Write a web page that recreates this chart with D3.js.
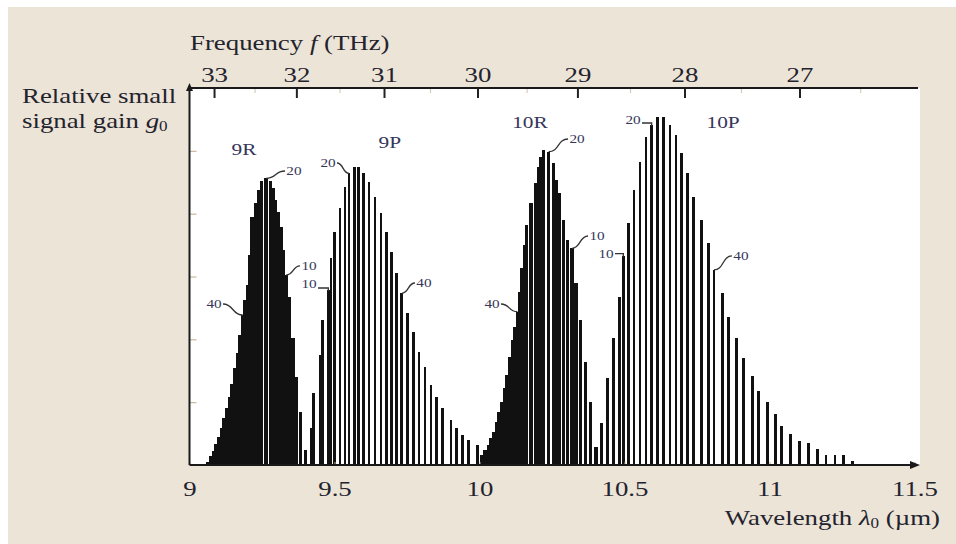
<!DOCTYPE html>
<html><head><meta charset="utf-8">
<script src="https://cdn.jsdelivr.net/npm/d3@7"></script>
<style>html,body{margin:0;padding:0;background:#fff;} svg{display:block;}</style>
</head><body>
<svg id="chart" width="956" height="544"></svg>
<script>
// ---------- data ----------
const bandNames = ["9R", "9P", "10R", "10P"];
const bandLabelWave = [9.188, 9.691, 10.174, 10.840];
const bandLabelGain = [4.93, 5.045, 5.363, 5.363];

const wave9R = [9.0638,9.0730,9.0822,9.0914,9.1006,9.1098,9.1190,9.1282,9.1374,9.1466,9.1557,9.1649,9.1741,9.1833,9.1914,9.1994,9.2075,9.2155,9.2293,9.2385,9.2477,9.2638,9.2787,9.2879,9.2971,9.3063,9.3155,9.3247,9.3339,9.3431,9.3569,9.3695,9.3822,9.3994];
const gain9R = [0.053,0.143,0.228,0.334,0.440,0.584,0.743,0.902,1.088,1.289,1.539,1.788,2.069,2.387,2.626,2.865,3.342,3.952,4.165,4.377,4.525,4.563,4.525,4.404,4.218,4.032,3.793,3.422,3.024,2.679,2.016,1.405,0.849,0.239];

const wave9P = [9.4190,9.4282,9.4500,9.4592,9.4787,9.4879,9.4994,9.5190,9.5362,9.5500,9.5684,9.5822,9.5994,9.6190,9.6397,9.6603,9.6799,9.6971,9.7144,9.7316,9.7523,9.7718,9.7914,9.8121,9.8328,9.8523,9.8718,9.9017,9.9213,9.9408,9.9615,9.9937];
const gain9P = [0.584,1.141,1.751,2.308,2.785,3.289,3.714,4.085,4.430,4.642,4.748,4.737,4.653,4.509,4.271,4.006,3.714,3.395,3.051,2.733,2.414,2.122,1.803,1.565,1.273,1.087,0.902,0.716,0.584,0.477,0.398,0.318];

const wave10R = [10.0075,10.0190,10.0305,10.0397,10.0489,10.0580,10.0672,10.0764,10.0856,10.0948,10.1040,10.1132,10.1224,10.1305,10.1385,10.1466,10.1546,10.1626,10.1776,10.1937,10.2029,10.2121,10.2213,10.2385,10.2557,10.2649,10.2741,10.2902,10.3040,10.3190,10.3328,10.3489,10.3649,10.3822,10.4017];
const gain10R = [0.159,0.239,0.318,0.424,0.531,0.690,0.849,1.008,1.220,1.432,1.724,1.990,2.202,2.440,2.758,3.130,3.502,3.820,4.165,4.483,4.748,4.907,5.014,4.987,4.801,4.536,4.324,3.899,3.581,3.448,2.892,2.308,1.645,1.008,0.292];

const wave10P = [10.4213,10.4420,10.4615,10.4822,10.4960,10.5132,10.5328,10.5534,10.5741,10.5937,10.6144,10.6339,10.6569,10.6776,10.6971,10.7167,10.7374,10.7661,10.7891,10.8086,10.8385,10.8580,10.8868,10.9098,10.9408,10.9615,10.9925,11.0213,11.0420,11.0730,11.1029,11.1339,11.1649,11.1948,11.2259,11.2546,11.2868];
const gain10P = [0.663,1.379,2.026,2.679,3.331,3.847,4.377,4.828,5.225,5.411,5.544,5.544,5.411,5.252,4.961,4.643,4.271,3.899,3.528,3.104,2.733,2.360,2.016,1.698,1.417,1.183,0.998,0.812,0.621,0.488,0.387,0.345,0.250,0.159,0.159,0.159,0.069];

// rotational line labels (J numbers)
const jText     = ["40","20","10","10","20","40","40","20","10","10","20","40"];
const jBand     = [0,0,0,1,1,1,2,2,2,3,3,3];
const jTextWave = [9.0845,9.3603,9.4121,9.4121,9.4776,9.8086,10.0431,10.3362,10.4052,10.4362,10.5293,10.9017];
const jTextGain = [2.499,4.615,3.104,2.817,4.743,2.833,2.499,5.125,3.581,3.295,5.427,3.263];
const jBarWave  = [9.1833,9.2638,9.3339,9.4787,9.5500,9.7316,10.1305,10.2385,10.3190,10.4960,10.5937,10.8086];
const jLeader   = ["curve","curve","curve","elbow","curve","curve","curve","curve","curve","elbow","elbow","curve"];

const waveTicks = [9, 9.5, 10, 10.5, 11, 11.5];
const freqTicks = [33, 32, 31, 30, 29, 28, 27];
const freqMinorTicks = [32.5, 31.5, 30.5, 29.5, 28.5, 27.5, 26.5];
const gainTicks = [1, 2, 3, 4, 5];
const C_UM_THZ = 299.792458; // c in µm·THz, for the frequency axis

// ---------- drawing ----------
const serif = "'Liberation Serif', 'DejaVu Serif', serif";
const ink = "#23232e";
const labInk = "#36365a";
const SX = 1.22; // horizontal stretch of the lettering
const FS = 22;

const svg = d3.select("#chart");
svg.append("rect").attr("x", 8).attr("y", 7).attr("width", 948).attr("height", 537).attr("fill", "#ece4d6");

const x = d3.scaleLinear().domain([9, 11.5]).range([189.5, 914.5]);
const y = d3.scaleLinear().domain([0, 6]).range([465, 88]);

// plot area
svg.append("rect").attr("x", x(9)).attr("y", y(6)).attr("width", 920 - x(9)).attr("height", y(0) - y(6)).attr("fill", "#fff");

function stretched(sel, px, py) {
  return sel.attr("transform", `translate(${px},${py}) scale(${SX},1)`);
}

// bars
const bands = [
  {w: wave9R, g: gain9R, width: 3.5},
  {w: wave9P, g: gain9P, width: 2.4},
  {w: wave10R, g: gain10R, width: 3.5},
  {w: wave10P, g: gain10P, width: 2.4}
];
const barG = svg.append("g").attr("shape-rendering", "crispEdges");
bands.forEach(b => {
  const rows = b.w.map((w, i) => ({w, g: b.g[i]}));
  barG.append("g").selectAll("rect").data(rows).join("rect")
    .attr("x", d => x(d.w) - b.width / 2)
    .attr("width", b.width)
    .attr("y", d => y(d.g))
    .attr("height", d => y(0) - y(d.g))
    .attr("fill", "#111");
});

// y ticks (inside, unlabeled)
const gy = svg.append("g").attr("transform", `translate(${x(9)},0)`)
  .call(d3.axisRight(y).tickValues(gainTicks).tickSize(7).tickFormat(""));
gy.select(".domain").remove();
gy.selectAll(".tick line").attr("stroke", "#c9b79c").attr("stroke-width", 1.2);

// bottom axis
const gx = svg.append("g").attr("transform", `translate(0,${y(0)})`)
  .call(d3.axisBottom(x).tickValues(waveTicks).tickSize(-3).tickFormat(d => String(d)));
gx.select(".domain").remove();
gx.selectAll(".tick line").attr("stroke", "#c9a98a");
gx.selectAll(".tick text").attr("y", 31).attr("dy", null)
  .attr("font-family", serif).attr("font-size", FS).attr("fill", ink)
  .attr("transform", `scale(${SX},1)`);

// top frequency axis
const fScale = f => x(C_UM_THZ / f);
fScale.copy = () => fScale;
fScale.range = () => x.range();
fScale.domain = () => [C_UM_THZ / 9, C_UM_THZ / 11.5];
const gt = svg.append("g").attr("transform", `translate(0,${y(6)})`)
  .call(d3.axisTop(fScale).tickValues(freqTicks).tickSize(-10).tickFormat(d3.format("d")));
gt.select(".domain").remove();
gt.selectAll(".tick line").attr("stroke", "#222").attr("stroke-width", 2);
gt.selectAll(".tick text").attr("y", -6).attr("dy", null)
  .attr("font-family", serif).attr("font-size", FS).attr("fill", ink)
  .attr("transform", `scale(${SX},1)`);
const gtm = svg.append("g").attr("transform", `translate(0,${y(6)})`)
  .call(d3.axisTop(fScale).tickValues(freqMinorTicks).tickSize(-5).tickFormat(""));
gtm.select(".domain").remove();
gtm.selectAll(".tick line").attr("stroke", "#d6cbbb").attr("stroke-width", 1.2);

// frame lines and arrows
svg.append("line").attr("x1", x(9)).attr("x2", 918).attr("y1", y(6)).attr("y2", y(6)).attr("stroke", "#1a1a1a").attr("stroke-width", 2);
svg.append("line").attr("x1", x(9)).attr("x2", x(9)).attr("y1", y(0)).attr("y2", y(6) - 2).attr("stroke", "#1a1a1a").attr("stroke-width", 2);
svg.append("line").attr("x1", x(9)).attr("x2", 912).attr("y1", y(0)).attr("y2", y(0)).attr("stroke", "#1a1a1a").attr("stroke-width", 2);
svg.append("path").attr("d", `M${920},${y(0)} l-10,-4 l0,8 Z`).attr("fill", "#1a1a1a");
svg.append("path").attr("d", `M${x(9)},${y(6) - 5} l-3.5,8 l7,0 Z`).attr("fill", "#1a1a1a");

// band labels
bandNames.forEach((n, i) => {
  stretched(svg.append("text"), x(bandLabelWave[i]), y(bandLabelGain[i]))
    .attr("text-anchor", "middle").attr("font-family", serif).attr("font-size", 17.5)
    .attr("fill", labInk).text(n);
});

// J labels with leaders
jText.forEach((t, i) => {
  const b = bands[jBand[i]];
  const k = d3.minIndex(b.w, w => Math.abs(w - jBarWave[i]));
  const ex = x(b.w[k]), ey = y(b.g[k]);
  const tx = x(jTextWave[i]), ty = y(jTextGain[i]);
  const side = ex > tx ? 1 : -1;
  stretched(svg.append("text"), tx, ty)
    .attr("text-anchor", "middle").attr("font-family", serif).attr("font-size", 12.5)
    .attr("fill", labInk).text(t);
  let d;
  if (jLeader[i] === "elbow") {
    const sx = tx + side * 9;
    d = `M${sx},${ey - 2} H${ex} V${ey + 1}`;
  } else {
    const sx = tx + side * 9, sy = ty - 4;
    const dx = ex - sx;
    d = `M${sx},${sy} C${sx + dx * 0.55},${sy} ${sx + dx * 0.45},${ey} ${ex},${ey}`;
  }
  svg.append("path").attr("d", d).attr("fill", "none").attr("stroke", "#333").attr("stroke-width", 1.3);
});

// axis titles
const ft = stretched(svg.append("text"), 190, 50).attr("font-family", serif).attr("font-size", FS).attr("fill", ink);
ft.append("tspan").text("Frequency ");
ft.append("tspan").attr("font-style", "italic").text("f");
ft.append("tspan").text(" (THz)");

stretched(svg.append("text"), 22, 103).attr("font-family", serif).attr("font-size", FS).attr("fill", ink).text("Relative small");
const yl = stretched(svg.append("text"), 22, 128).attr("font-family", serif).attr("font-size", FS).attr("fill", ink);
yl.append("tspan").text("signal gain ");
yl.append("tspan").attr("font-style", "italic").text("g");
yl.append("tspan").attr("font-size", 14).attr("dy", 3).text("0");

const wl = stretched(svg.append("text"), 940, 525).attr("text-anchor", "end").attr("font-family", serif).attr("font-size", FS).attr("fill", ink);
wl.append("tspan").text("Wavelength ");
wl.append("tspan").attr("font-style", "italic").text("λ");
wl.append("tspan").attr("font-size", 14).attr("dy", 3).text("0");
wl.append("tspan").attr("dy", -3).text(" (µm)");
</script>
</body></html>
